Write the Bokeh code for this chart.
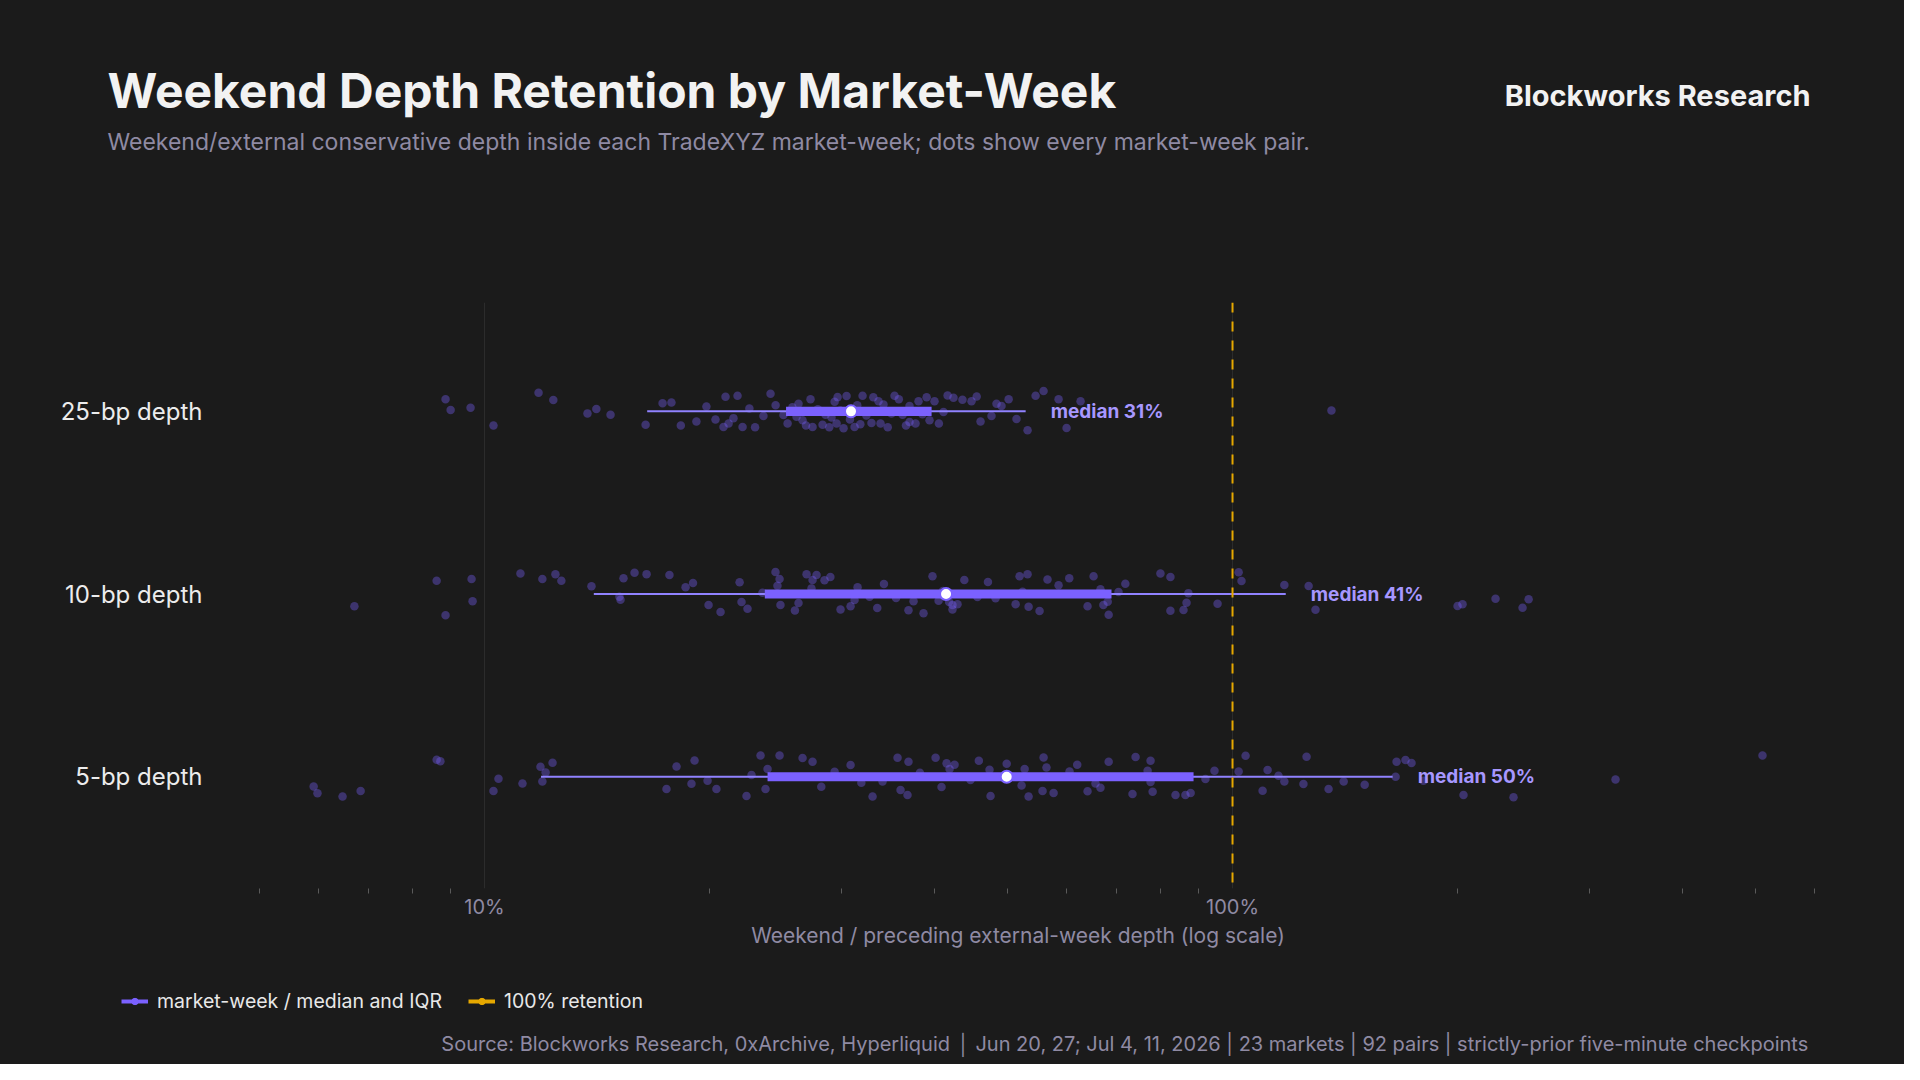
from bokeh.core.properties import value
from bokeh.embed import file_html
from bokeh.layouts import column, row
from bokeh.models import (ColumnDataSource, FixedTicker, Label, Legend,
                          LegendItem, Range1d, Span)
from bokeh.plotting import figure
from bokeh.resources import INLINE

# ---- data (retention in %) ----
rows = ["5-bp depth", "10-bp depth", "25-bp depth"]
row_pos = [0, 1, 2]

whisker_lo = [11.9, 14.0, 16.5]
q1 = [23.9, 23.7, 25.3]
median = [49.9, 41.4, 30.9]
q3 = [88.7, 68.9, 39.6]
whisker_hi = [163.7, 117.8, 52.9]

pairs_25bp = [8.87, 9.01, 9.58, 10.28, 11.81, 12.36, 13.73, 14.11, 14.74, 16.42,
              17.30, 17.78, 19.20, 20.36, 20.87, 21.00, 21.20, 21.52, 21.79, 22.13,
              23.60, 24.12, 25.10, 25.42, 26.13, 26.29, 26.62, 27.28, 27.45, 28.31,
              28.57, 29.38, 29.56, 29.65, 30.48, 31.24, 32.02, 32.91, 33.63, 33.84,
              34.15, 35.33, 36.22, 37.00, 37.00, 37.69, 38.04, 39.35, 39.96, 41.08,
              42.36, 43.55, 44.78, 46.04, 47.62, 48.36, 49.11, 51.43, 53.21, 54.54,
              55.90, 58.54, 60.0, 62.64, 135.6, 25.8, 26.9, 27.9, 28.9, 29.1,
              29.9, 30.2, 30.8, 31.5, 31.8, 32.4, 33.1, 34.6, 35.0, 35.8,
              36.6, 38.5, 39.0, 40.5, 41.6, 23.0, 24.5, 22.6, 19.8, 18.3,
              45.5, 50.2]
jitter_25bp = [0.067, 0.007, 0.020, -0.078, 0.102, 0.062, -0.011, 0.013, -0.018, -0.073,
               0.045, 0.048, -0.056, -0.045, -0.086, 0.080, -0.067, -0.037, 0.086, -0.086,
               -0.026, 0.097, -0.020, -0.067, -0.029, 0.042, -0.049, 0.067, -0.086, -0.073,
               -0.018, 0.053, -0.067, 0.078, 0.084, -0.086, 0.086, -0.064, 0.056, -0.067,
               0.037, 0.086, -0.018, 0.029, -0.058, -0.067, 0.056, -0.049, 0.056, -0.004,
               0.075, 0.064, 0.056, -0.056, -0.026, 0.042, 0.029, -0.042, -0.104, 0.086,
               0.111, 0.066, -0.091, 0.056, 0.005, 0.022, -0.077, 0.011, -0.087, -0.033,
               0.005, -0.093, -0.044, 0.033, -0.071, -0.022, 0.077, -0.087, -0.011, 0.066,
               -0.077, -0.016, 0.077, -0.066, 0.087, -0.087, 0.033, 0.016, 0.027, -0.077,
               0.082, 0.066]

pairs_10bp = [6.70, 8.63, 8.87, 9.61, 9.64, 11.17, 11.95, 12.44, 12.67, 13.90,
              15.15, 15.20, 15.34, 15.87, 16.47, 17.67, 18.57, 19.93, 20.68, 21.93,
              22.06, 22.47, 23.53, 24.49, 24.80, 24.64, 24.87, 26.29, 26.95, 27.45,
              27.79, 28.48, 27.36, 29.92, 30.86, 31.24, 31.53, 32.72, 36.88, 37.46,
              38.63, 39.71, 40.46, 42.23, 42.89, 42.23, 48.22, 51.29, 51.92, 53.21,
              53.38, 55.21, 56.58, 52.40, 58.54, 65.2, 66.6, 70.4, 71.9, 68.1,
              67.2, 64.0, 68.3, 80.1, 82.6, 87.3, 86.8, 86.0, 82.6, 95.5,
              101.9, 102.8, 117.3, 126.4, 129.1, 199.9, 203.0, 224.7, 244.2, 248.8,
              34.2, 35.5, 41.0, 41.8, 43.8, 45.6, 33.5, 29.0, 47.1, 60.5,
              19.0, 26.0]
jitter_10bp = [-0.067, 0.073, -0.116, 0.082, -0.040, 0.113, 0.082, 0.108, 0.073, 0.042,
               -0.015, -0.031, 0.086, 0.116, 0.109, 0.104, 0.037, -0.060, -0.098, 0.064,
               -0.044, -0.080, 0.007, 0.120, 0.082, 0.045, -0.060, -0.049, 0.108, 0.077,
               0.104, 0.075, 0.031, -0.084, -0.067, -0.033, 0.037, -0.015, -0.089, -0.040,
               -0.105, 0.098, -0.037, -0.060, -0.056, -0.084, -0.023, -0.056, 0.098, 0.108,
               -0.069, -0.093, 0.080, 0.013, 0.048, 0.098, 0.026, 0.011, 0.056, -0.042,
               -0.060, -0.067, -0.113, 0.113, 0.093, 0.005, -0.048, -0.087, -0.091, -0.053,
               0.119, 0.071, 0.049, 0.044, -0.086, -0.066, -0.056, -0.026, -0.075, -0.029,
               0.055, -0.022, 0.016, -0.044, 0.077, -0.016, -0.077, 0.093, 0.066, 0.087,
               0.060, -0.090]

pairs_5bp = [5.91, 5.98, 6.46, 6.83, 8.63, 8.73, 10.28, 10.44, 11.24, 11.88,
             11.95, 12.07, 12.33, 17.51, 18.06, 18.91, 19.09, 19.87, 20.42, 22.40,
             22.75, 23.39, 23.75, 23.90, 24.80, 26.62, 27.45, 29.38, 30.86, 33.02,
             34.05, 35.66, 35.99, 36.77, 36.88, 40.09, 40.83, 41.47, 41.85, 42.50,
             44.64, 47.33, 47.48, 52.24, 52.73, 53.38, 55.72, 55.90, 56.40, 60.55,
             57.65, 64.0, 65.58, 66.6, 68.3, 74.2, 77.7, 77.0, 77.7, 73.5,
             78.2, 83.9, 86.5, 87.9, 92.0, 94.6, 104.1, 101.9, 109.7, 111.4,
             115.2, 117.3, 124.4, 125.6, 134.4, 140.8, 150.2, 165.2, 165.7, 170.3,
             173.5, 180.0, 203.6, 237.5, 325.1, 511.1, 28.2, 31.9, 38.2, 45.8,
             49.9, 62.0]
jitter_5bp = [-0.053, -0.091, -0.109, -0.078, 0.093, 0.084, -0.078, -0.011, -0.037, 0.055,
              -0.026, 0.023, 0.077, -0.067, 0.056, -0.038, 0.089, -0.022, -0.067, -0.105,
              0.009, 0.116, -0.067, 0.042, 0.116, 0.102, 0.082, 0.027, 0.064, -0.109,
              -0.026, 0.104, -0.073, -0.100, 0.082, 0.104, -0.056, 0.073, 0.042, 0.066,
              -0.018, 0.038, -0.105, -0.048, 0.042, -0.109, -0.078, 0.105, 0.051, 0.029,
              -0.089, -0.080, -0.037, -0.060, 0.082, 0.108, 0.087, 0.033, -0.029, -0.095,
              -0.082, -0.100, -0.100, -0.089, -0.013, 0.033, 0.115, 0.029, -0.077, 0.037,
              0.005, -0.026, -0.040, 0.109, -0.067, -0.026, -0.044, 0.0, 0.082, 0.091,
              0.075, -0.022, -0.100, -0.113, -0.015, 0.116, -0.055, -0.033, 0.022, 0.087,
              0.071, 0.066]

major_ticks = [0.1, 1.0]
minor_ticks = [0.05, 0.06, 0.07, 0.08, 0.09, 0.2, 0.3, 0.4, 0.5, 0.6, 0.7, 0.8, 0.9,
               2.0, 3.0, 4.0, 5.0, 6.0]

# ---- style ----
BG = "#1b1b1b"
PURPLE = "#7b61ff"
WHISKER = "#9082ff"
DOT = "#7b61ff"
LABEL_PURPLE = "#a797ff"
GOLD = "#e6a800"
MUTED = "#8f8aa3"
WHITE = "#f2f2f2"
FONT = "Inter"
W = 1904


def panel(height):
    """Blank full-bleed figure used for the header and footer texts."""
    f = figure(width=W, height=height, x_range=Range1d(0, 1), y_range=Range1d(0, 1),
               min_border_left=0, min_border_right=0, min_border_top=0,
               min_border_bottom=0, output_backend="svg", toolbar_location=None,
               background_fill_color=None, border_fill_color=None)
    f.outline_line_color = None
    f.axis.visible = False
    f.grid.grid_line_color = None
    return f


def note(f, x, y, text, size, color, style="normal", align="left", baseline="middle"):
    f.add_layout(Label(x=x, y=y, x_units="screen", y_units="screen", text=text,
                       text_font=FONT, text_font_size=size, text_color=color,
                       text_font_style=style, text_align=align,
                       text_baseline=baseline))


# ---- header ----
head = panel(302)
note(head, 107, 212, "Weekend Depth Retention by Market-Week", "48px", WHITE, "bold")
note(head, 107, 161, "Weekend/external conservative depth inside each TradeXYZ "
     "market-week; dots show every market-week pair.", "23px", MUTED)
note(head, 1810, 207, "Blockworks Research", "29px", WHITE, "bold", align="right")

# ---- main chart ----
p = figure(
    x_axis_type="log",
    x_range=Range1d(0.04369, 6.11),
    y_range=Range1d(-0.612, 2.596),
    frame_width=1605, frame_height=586,
    min_border_left=215, min_border_right=84,
    min_border_top=0, min_border_bottom=72,
    output_backend="svg", toolbar_location=None,
    background_fill_color=None, border_fill_color=None,
)
p.outline_line_color = None

xa = p.xaxis[0]
xa.ticker = FixedTicker(ticks=major_ticks, minor_ticks=minor_ticks)
xa.major_label_overrides = {0.1: "10%", 1.0: "100%"}
xa.axis_line_color = None
xa.major_tick_line_color = None
xa.major_tick_out = 0
xa.major_tick_in = 0
xa.minor_tick_line_color = "#5a5a5a"
xa.minor_tick_in = 0
xa.minor_tick_out = 5
xa.major_label_standoff = 1
xa.major_label_text_font = FONT
xa.major_label_text_font_size = "20px"
xa.major_label_text_color = MUTED
xa.axis_label = "Weekend / preceding external-week depth (log scale)"
xa.axis_label_text_font = FONT
xa.axis_label_text_font_size = "21px"
xa.axis_label_text_font_style = "normal"
xa.axis_label_text_color = MUTED
xa.axis_label_standoff = 1

ya = p.yaxis[0]
ya.ticker = FixedTicker(ticks=row_pos)
ya.major_label_overrides = {pos: name for pos, name in zip(row_pos, rows)}
ya.axis_line_color = None
ya.major_tick_line_color = None
ya.major_tick_out = 0
ya.minor_tick_line_color = None
ya.major_label_standoff = 13
ya.major_label_text_font = FONT
ya.major_label_text_font_size = "24px"
ya.major_label_text_color = "#ececec"

p.xgrid.grid_line_color = "#2c2c2c"
p.ygrid.grid_line_color = None

# dots: every market-week pair
dot_x, dot_y = [], []
for pos, vals, jit in zip(row_pos, [pairs_5bp, pairs_10bp, pairs_25bp],
                          [jitter_5bp, jitter_10bp, jitter_25bp]):
    dot_x += [v / 100 for v in vals]
    dot_y += [pos + j for j in jit]
p.scatter(dot_x, dot_y, size=8.5, fill_color=DOT, fill_alpha=0.36, line_color=None)

# whiskers, IQR box, median
box = ColumnDataSource(dict(
    y=row_pos,
    lo=[v / 100 for v in whisker_lo],
    q1=[v / 100 for v in q1],
    med=[v / 100 for v in median],
    q3=[v / 100 for v in q3],
    hi=[v / 100 for v in whisker_hi],
    text=[f"median {m:.0f}%" for m in median],
))
p.segment("lo", "y", "hi", "y", source=box, line_color=WHISKER, line_width=2)
p.hbar(y="y", left="q1", right="q3", height=0.05, source=box,
       fill_color=PURPLE, line_color=None)
p.scatter("med", "y", source=box, size=12, fill_color="white",
          line_color=PURPLE, line_width=2)
p.text("hi", "y", text="text", source=box, x_offset=25, text_baseline="middle",
       text_font=value(FONT), text_font_size="19px", text_font_style="bold",
       text_color=LABEL_PURPLE)

p.add_layout(Span(location=1.0, dimension="height", line_color=GOLD,
                  line_width=2, line_dash="10 9"))

# ---- footer: legend + source ----
foot = panel(104)
la_line = foot.line([-5, -4], [-5, -5], line_color=PURPLE, line_width=4)
la_dot = foot.scatter([-5], [-5], size=11, fill_color=PURPLE, line_color=PURPLE)
lb_line = foot.line([-5, -4], [-5, -5], line_color=GOLD, line_width=4)
lb_dot = foot.scatter([-5], [-5], size=11, fill_color=GOLD, line_color=GOLD)
legend = Legend(
    items=[LegendItem(label="market-week / median and IQR", renderers=[la_line, la_dot]),
           LegendItem(label="100% retention", renderers=[lb_line, lb_dot])],
    location=(121, 51), orientation="horizontal",
    glyph_width=27, glyph_height=16, label_standoff=9, spacing=26,
    padding=0, margin=0, border_line_color=None, background_fill_alpha=0,
    label_text_font=FONT, label_text_font_size="19.5px", label_text_color="#e8e8e8",
)
foot.add_layout(legend)
note(foot, 1819, 21, "Source: Blockworks Research, 0xArchive, Hyperliquid  \u2502  "
     "Jun 20, 27; Jul 4, 11, 2026 | 23 markets | 92 pairs | "
     "strictly-prior five-minute checkpoints", "20px", MUTED, align="right")

# the chart sits in its own row so that header/footer frames stay full width
layout = column(head, row(p), foot, spacing=0, styles={"background-color": BG})
open("out.html", "w").write(file_html(layout, INLINE))
